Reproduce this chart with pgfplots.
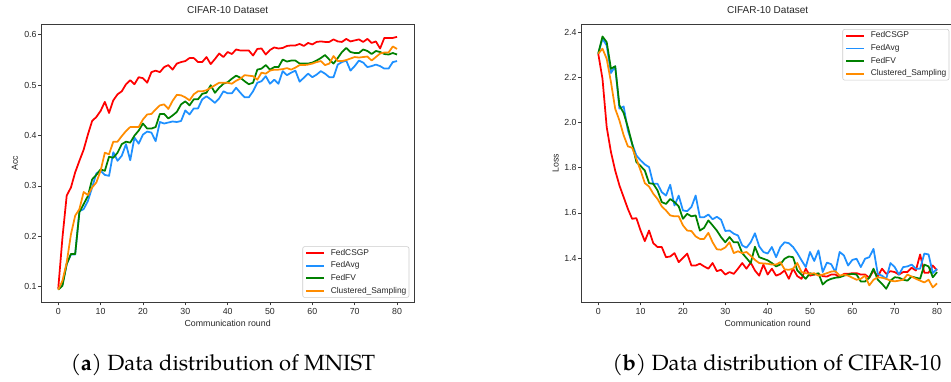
\documentclass[border=0pt]{standalone}
\usepackage{pgfplots}
\usepackage{pgfplotstable}
\pgfplotsset{compat=1.18}
\usepackage{fontspec}
\setmainfont{Liberation Sans}
\newfontfamily\capfont{TeX Gyre Pagella}
\definecolor{cred}{HTML}{FF0000}
\definecolor{cblue}{HTML}{1E90FF}
\definecolor{cgreen}{HTML}{008000}
\definecolor{corange}{HTML}{FF8C00}
\definecolor{spine}{HTML}{3A3A3A}

\pgfplotstableread{
x red blue green orange
0 0.096 0.096 0.094 0.094
1 0.198 0.104 0.102 0.112
2 0.281 0.145 0.145 0.148
3 0.297 0.164 0.165 0.204
4 0.327 0.164 0.165 0.241
5 0.350 0.250 0.248 0.254
6 0.372 0.254 0.264 0.288
7 0.402 0.270 0.280 0.282
8 0.429 0.297 0.313 0.297
9 0.437 0.325 0.322 0.307
10 0.449 0.330 0.333 0.330
11 0.467 0.322 0.330 0.366
12 0.445 0.320 0.358 0.363
13 0.470 0.367 0.356 0.388
14 0.482 0.350 0.366 0.388
15 0.488 0.360 0.383 0.399
16 0.502 0.383 0.388 0.409
17 0.510 0.351 0.386 0.417
18 0.502 0.396 0.400 0.417
19 0.516 0.384 0.410 0.417
20 0.514 0.402 0.424 0.432
21 0.505 0.408 0.414 0.442
22 0.526 0.406 0.414 0.443
23 0.529 0.389 0.417 0.452
24 0.526 0.427 0.443 0.460
25 0.536 0.424 0.443 0.462
26 0.540 0.426 0.434 0.453
27 0.531 0.428 0.440 0.469
28 0.543 0.427 0.447 0.481
29 0.546 0.429 0.462 0.480
30 0.548 0.450 0.468 0.476
31 0.554 0.442 0.460 0.470
32 0.554 0.454 0.472 0.482
33 0.546 0.454 0.472 0.488
34 0.546 0.472 0.483 0.488
35 0.556 0.478 0.485 0.490
36 0.542 0.472 0.500 0.495
37 0.552 0.465 0.485 0.500
38 0.563 0.474 0.495 0.505
39 0.556 0.488 0.503 0.505
40 0.566 0.484 0.506 0.505
41 0.562 0.484 0.513 0.503
42 0.571 0.495 0.519 0.509
43 0.569 0.485 0.515 0.513
44 0.569 0.476 0.508 0.520
45 0.569 0.476 0.502 0.519
46 0.559 0.488 0.505 0.518
47 0.572 0.505 0.531 0.511
48 0.573 0.508 0.533 0.525
49 0.561 0.518 0.540 0.523
50 0.570 0.503 0.531 0.529
51 0.575 0.511 0.536 0.531
52 0.573 0.503 0.536 0.531
53 0.574 0.528 0.551 0.532
54 0.578 0.520 0.547 0.534
55 0.579 0.525 0.549 0.531
56 0.579 0.529 0.549 0.535
57 0.582 0.507 0.543 0.540
58 0.578 0.515 0.543 0.540
59 0.584 0.523 0.543 0.541
60 0.581 0.516 0.545 0.543
61 0.586 0.521 0.549 0.546
62 0.587 0.528 0.554 0.548
63 0.586 0.523 0.560 0.540
64 0.586 0.516 0.551 0.543
65 0.591 0.516 0.543 0.558
66 0.587 0.541 0.554 0.548
67 0.586 0.546 0.566 0.548
68 0.592 0.549 0.574 0.550
69 0.587 0.529 0.566 0.553
70 0.589 0.538 0.564 0.556
71 0.591 0.549 0.564 0.555
72 0.586 0.545 0.571 0.556
73 0.592 0.536 0.568 0.557
74 0.584 0.538 0.562 0.549
75 0.587 0.541 0.568 0.556
76 0.573 0.538 0.566 0.563
77 0.594 0.533 0.562 0.565
78 0.594 0.533 0.561 0.565
79 0.594 0.546 0.564 0.577
80 0.596 0.548 0.561 0.572
}\accdata

\pgfplotstableread{
x red blue green orange
0 2.306 2.306 2.306 2.306
1 2.195 2.372 2.382 2.328
2 1.980 2.342 2.357 2.283
3 1.870 2.220 2.239 2.180
4 1.788 2.250 2.250 2.062
5 1.722 2.062 2.077 2.010
6 1.670 2.072 2.043 1.944
7 1.618 1.966 1.980 1.895
8 1.574 1.907 1.907 1.889
9 1.577 1.855 1.826 1.840
10 1.522 1.833 1.808 1.788
11 1.475 1.815 1.788 1.732
12 1.522 1.803 1.732 1.717
13 1.466 1.729 1.729 1.685
14 1.449 1.729 1.700 1.662
15 1.449 1.692 1.648 1.629
16 1.404 1.677 1.640 1.611
17 1.407 1.725 1.662 1.589
18 1.422 1.633 1.648 1.585
19 1.382 1.677 1.629 1.585
20 1.401 1.611 1.574 1.545
21 1.420 1.608 1.596 1.522
22 1.367 1.626 1.585 1.520
23 1.367 1.677 1.589 1.496
24 1.375 1.581 1.522 1.485
25 1.363 1.581 1.534 1.485
26 1.353 1.593 1.567 1.512
27 1.378 1.572 1.545 1.470
28 1.342 1.583 1.522 1.439
29 1.348 1.570 1.493 1.437
30 1.327 1.520 1.470 1.447
31 1.338 1.522 1.493 1.470
32 1.330 1.508 1.470 1.422
33 1.353 1.500 1.470 1.430
34 1.378 1.456 1.422 1.422
35 1.353 1.446 1.400 1.427
36 1.380 1.470 1.378 1.410
37 1.345 1.510 1.450 1.392
38 1.322 1.452 1.404 1.378
39 1.371 1.427 1.397 1.376
40 1.327 1.420 1.390 1.375
41 1.353 1.449 1.378 1.371
42 1.322 1.404 1.363 1.371
43 1.330 1.449 1.372 1.382
44 1.345 1.470 1.397 1.350
45 1.308 1.466 1.407 1.348
46 1.353 1.449 1.404 1.353
47 1.320 1.422 1.345 1.378
48 1.308 1.390 1.327 1.338
49 1.353 1.360 1.308 1.333
50 1.322 1.427 1.333 1.330
51 1.327 1.387 1.327 1.333
52 1.330 1.434 1.333 1.322
53 1.320 1.338 1.283 1.327
54 1.318 1.380 1.300 1.333
55 1.327 1.373 1.308 1.340
56 1.327 1.338 1.313 1.342
57 1.315 1.427 1.315 1.322
58 1.330 1.412 1.322 1.327
59 1.330 1.367 1.327 1.322
60 1.333 1.392 1.330 1.313
61 1.333 1.397 1.327 1.304
62 1.327 1.360 1.296 1.308
63 1.327 1.397 1.296 1.322
64 1.313 1.404 1.313 1.279
65 1.345 1.441 1.353 1.304
66 1.318 1.330 1.304 1.315
67 1.353 1.322 1.286 1.313
68 1.330 1.308 1.264 1.308
69 1.342 1.378 1.300 1.300
70 1.338 1.360 1.315 1.297
71 1.327 1.327 1.313 1.300
72 1.338 1.360 1.304 1.304
73 1.338 1.363 1.300 1.327
74 1.357 1.371 1.318 1.318
75 1.345 1.353 1.313 1.308
76 1.416 1.353 1.308 1.300
77 1.335 1.420 1.371 1.292
78 1.335 1.416 1.363 1.304
79 1.367 1.333 1.315 1.270
80 1.345 1.353 1.338 1.288
}\lossdata

\pgfplotsset{
  mystyle/.style={
    scale only axis, width=372.7pt, height=278pt,
    xmin=-4, xmax=84,
    xtick={0,10,20,30,40,50,60,70,80},
    axis line style={spine, line width=0.8pt},
    tick align=outside, xtick pos=left, ytick pos=left,
    major tick length=3pt,
    major tick style={spine, line width=0.8pt},
    /pgf/number format/assume math mode=true,
    ticklabel style={font=\fontsize{8.8}{10}\selectfont, text=black!85},
    xticklabel style={anchor=north, inner sep=0pt, text height=6.3pt, text depth=0pt, yshift=-2.25pt},
    yticklabel style={anchor=east, inner sep=0pt, xshift=-1.6pt},
    label style={font=\fontsize{8.8}{10}\selectfont, text=black!85},
    xlabel style={at={(axis description cs:0.5,-0.0755)}, anchor=center},
    title style={font=\fontsize{10}{12}\selectfont, text=black!85, at={(axis description cs:0.5,1.031)}, anchor=center},
    legend cell align=left,
    legend image code/.code={\draw[##1] (0pt,0pt) -- (17.7pt,0pt);},
    legend style={draw=black!20, line width=0.6pt, rounded corners=2pt, fill=white, fill opacity=0.8, draw opacity=1, text opacity=1,
      inner xsep=2.6pt, inner ysep=2.5pt, row sep=5pt, /tikz/column sep=6pt,
      font=\fontsize{8.4}{10}\selectfont,
      nodes={inner sep=0pt, text height=6pt, text depth=1.7pt, text=black!85}},
  },
  ln/.style={#1, line width=1.75pt, line join=round, no markers},
}

\begin{document}
\begin{tikzpicture}
\begin{axis}[mystyle, at={(41.3pt,78.7pt)}, anchor=south west,
  ymin=0.069, ymax=0.621,
  ytick={0.1,0.2,0.3,0.4,0.5,0.6},
  yticklabel style={/pgf/number format/.cd, fixed, fixed zerofill, precision=1},
  title={CIFAR-10 Dataset},
  xlabel={Communication round}, ylabel={Acc},
  ylabel style={at={(axis description cs:-0.0706,0.5)}, anchor=center},
  legend style={at={(axis description cs:0.9874,0.0165)}, anchor=south east}]
\addplot[ln=cred] table[x=x, y=red] {\accdata};
\addlegendentry{FedCSGP}
\addplot[ln=cblue] table[x=x, y=blue] {\accdata};
\addlegendentry{FedAvg}
\addplot[ln=cgreen] table[x=x, y=green] {\accdata};
\addlegendentry{FedFV}
\addplot[ln=corange] table[x=x, y=orange] {\accdata};
\addlegendentry{Clustered\_Sampling}
\end{axis}

\begin{axis}[mystyle, at={(581.3pt,78.7pt)}, anchor=south west,
  ymin=1.204, ymax=2.436,
  ytick={1.4,1.6,1.8,2.0,2.2,2.4},
  yticklabel style={/pgf/number format/.cd, fixed, fixed zerofill, precision=1},
  title={CIFAR-10 Dataset},
  xlabel={Communication round}, ylabel={Loss},
  ylabel style={at={(axis description cs:-0.0687,0.5)}, anchor=center},
  legend style={at={(axis description cs:0.9874,0.983)}, anchor=north east}]
\addplot[ln=cred] table[x=x, y=red] {\lossdata};
\addlegendentry{FedCSGP}
\addplot[ln=cblue] table[x=x, y=blue] {\lossdata};
\addlegendentry{FedAvg}
\addplot[ln=cgreen] table[x=x, y=green] {\lossdata};
\addlegendentry{FedFV}
\addplot[ln=corange] table[x=x, y=orange] {\lossdata};
\addlegendentry{Clustered\_Sampling}
\end{axis}

\node[anchor=base, font=\capfont\fontsize{22}{24}\selectfont, inner sep=0pt] at (223pt,11pt) {(\textbf{a}) Data distribution of MNIST};
\node[anchor=base, font=\capfont\fontsize{22}{24}\selectfont, inner sep=0pt] at (777pt,11pt) {(\textbf{b}) Data distribution of CIFAR-10};

\pgfresetboundingbox
\useasboundingbox (0pt,0pt) rectangle (951pt,381pt);
\end{tikzpicture}
\end{document}
